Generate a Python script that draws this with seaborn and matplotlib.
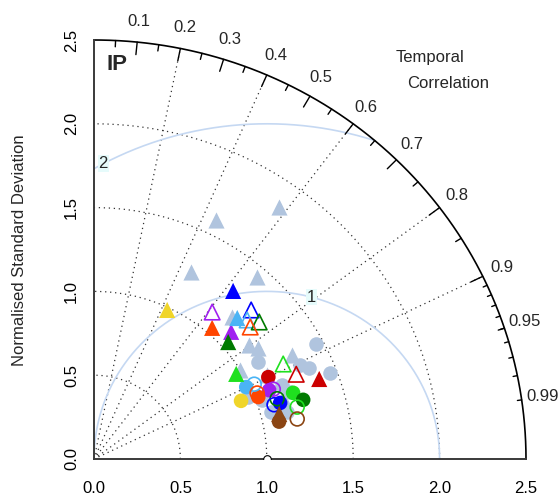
import numpy as np
import pandas as pd
import matplotlib
matplotlib.use("Agg")
import matplotlib.pyplot as plt
import seaborn as sns

sns.set_style("white")
plt.rcParams["font.family"] = ["Liberation Sans", "DejaVu Sans"]

# ---- data: normalised standard deviation and temporal correlation ----
# ensemble members (grey)
ens_tri_sd = [1.590, 1.847, 1.249, 1.439, 1.165, 1.127, 1.158, 1.304, 0.999, 1.120, 1.154]
ens_tri_cor = [0.444, 0.580, 0.450, 0.656, 0.686, 0.797, 0.820, 0.880, 0.847, 0.895, 0.949]
ens_circ_sd = [1.458, 1.113, 1.319, 1.359, 1.460, 1.035, 1.063, 1.153, 1.175, 1.204, 0.966]
ens_circ_cor = [0.882, 0.854, 0.905, 0.917, 0.936, 0.940, 0.965, 0.970, 0.927, 0.943, 0.924]

model_colors = {
    "blue": "#0000FF", "purple": "#A020F0", "skyblue": "#4AB4F5",
    "orangered": "#FF4500", "green": "#1FE01F", "darkgreen": "#007A00",
    "darkred": "#CC0000", "brown": "#8B4513", "yellow": "#F0D52A",
}
ens_color = "#B0C4DE"

tri_fill_model = ["blue", "yellow", "orangered", "purple", "darkgreen", "skyblue", "green", "darkred", "brown"]
tri_fill_sd = [1.286, 0.985, 1.039, 1.098, 1.044, 1.181, 0.967, 1.388, 1.105]
tri_fill_cor = [0.626, 0.430, 0.658, 0.723, 0.744, 0.702, 0.851, 0.939, 0.970]

tri_open_model = ["purple", "blue", "skyblue", "darkgreen", "orangered", "green", "darkred"]
tri_open_sd = [1.112, 1.272, 1.214, 1.258, 1.199, 1.233, 1.275]
tri_open_cor = [0.615, 0.715, 0.730, 0.760, 0.754, 0.888, 0.918]

circ_fill_model = ["darkred", "skyblue", "purple", "orangered", "yellow", "green", "darkgreen", "blue", "brown"]
circ_fill_sd = [1.121, 0.980, 1.094, 1.020, 0.919, 1.218, 1.261, 1.128, 1.094]
circ_fill_cor = [0.900, 0.899, 0.927, 0.932, 0.926, 0.946, 0.960, 0.955, 0.979]

circ_open_model = ["skyblue", "orangered", "purple", "darkgreen", "blue", "green", "brown"]
circ_open_sd = [1.029, 1.023, 1.118, 1.119, 1.091, 1.216, 1.200]
circ_open_cor = [0.901, 0.923, 0.928, 0.947, 0.955, 0.967, 0.980]

sd_ticks = [0.0, 0.5, 1.0, 1.5, 2.0, 2.5]
sd_arcs = [0.5, 1.0, 1.5, 2.0]
cor_labels = [0.1, 0.2, 0.3, 0.4, 0.5, 0.6, 0.7, 0.8, 0.9, 0.95, 0.99]
cor_lines = [0.2, 0.4, 0.6, 0.8, 0.9]
rms_arcs = [1, 2]
rms_label_angle = [1.31, 2.064]
max_sd = 2.5
ref_sd = 1.0


def to_xy(sd, cor, model=None):
    sd = np.asarray(sd, float)
    cor = np.asarray(cor, float)
    df = pd.DataFrame({"x": sd * cor, "y": sd * np.sqrt(1 - cor ** 2)})
    if model is not None:
        df["model"] = model
    return df


fig = plt.figure(figsize=(5.6, 4.99), dpi=100)
ax = fig.add_axes([94 / 560, 40 / 499, 432 / 560, 419 / 499])
ax.set_xlim(0, max_sd)
ax.set_ylim(0, max_sd)

for s in ["top", "right"]:
    ax.spines[s].set_visible(False)
for s in ["left", "bottom"]:
    ax.spines[s].set_color("#3a3a3a")
    ax.spines[s].set_linewidth(1.4)

ax.set_xticks(sd_ticks)
ax.set_xticklabels([f"{v:.1f}" for v in sd_ticks])
ax.set_yticks(sd_ticks)
ax.set_yticklabels([f"{v:.1f}" for v in sd_ticks], rotation=90, va="center")
ax.tick_params(axis="both", direction="out", length=5.8, width=1.2,
               color="#3a3a3a", labelsize=12, labelcolor="black")
ax.tick_params(axis="x", pad=10)
ax.tick_params(axis="y", pad=5)

dot = (0, (1, 3))
# standard deviation arcs
th = np.linspace(0, np.pi / 2, 300)
for r in sd_arcs:
    ax.plot(r * np.cos(th), r * np.sin(th), color="#333333", lw=0.9, ls=dot, zorder=1)
# correlation rays
for c in cor_lines:
    a = np.arccos(c)
    ax.plot([0, max_sd * np.cos(a)], [0, max_sd * np.sin(a)], color="#333333", lw=0.9, ls=dot, zorder=1)

# centred RMS difference arcs
tg = np.linspace(0, np.pi, 600)
for g, la in zip(rms_arcs, rms_label_angle):
    gx = ref_sd + g * np.cos(tg)
    gy = g * np.sin(tg)
    keep = (gx >= 0) & (gx ** 2 + gy ** 2 <= max_sd ** 2)
    ax.plot(gx[keep], gy[keep], color="#C5D8F2", lw=1.2, zorder=1.5)
    ax.text(ref_sd + g * np.cos(la), g * np.sin(la), str(g), fontsize=12, ha="center", va="center",
            zorder=2, bbox=dict(boxstyle="square,pad=0.05", fc="#E6FBFB", ec="none"))

# outer correlation arc with ticks
ax.plot(max_sd * np.cos(th), max_sd * np.sin(th), color="black", lw=1.2, clip_on=False, zorder=2)
big = np.arccos(np.arange(0.1, 0.91, 0.1))
med = np.arccos(np.arange(0.05, 0.96, 0.1))
sml = np.arccos(np.arange(0.91, 0.995, 0.01))
for angles, frac in [(big, 0.97), (med, 0.985), (sml, 0.99)]:
    for a in angles:
        ax.plot([max_sd * np.cos(a), frac * max_sd * np.cos(a)],
                [max_sd * np.sin(a), frac * max_sd * np.sin(a)],
                color="black", lw=1.0, clip_on=False, zorder=2)
for c in cor_labels:
    a = np.arccos(c)
    ax.text(1.05 * max_sd * np.cos(a), 1.05 * max_sd * np.sin(a), f"{c:g}",
            fontsize=12, ha="center", va="center", clip_on=False)

ax.text(1.744, 2.393, "Temporal", fontsize=12, ha="left", va="center", clip_on=False)
ax.text(1.813, 2.243, "Correlation", fontsize=12, ha="left", va="center", clip_on=False)
ax.text(0.075, 2.351, "IP", fontsize=16, fontweight="bold", ha="left", va="center")
fig.text(20 / 560, 1 - 250 / 499, "Normalised Standard Deviation", rotation=90,
         fontsize=12, ha="center", va="center")

# reference point
ax.plot([ref_sd], [0], marker="o", ms=5.5, mfc="white", mec="black", mew=0.8, zorder=3)

# ensemble members
sns.scatterplot(data=to_xy(ens_circ_sd, ens_circ_cor), x="x", y="y", marker="o", s=110,
                color=ens_color, linewidth=0, ax=ax, zorder=3, legend=False)
sns.scatterplot(data=to_xy(ens_tri_sd, ens_tri_cor), x="x", y="y", marker="^", s=135,
                color=ens_color, linewidth=0, ax=ax, zorder=3, legend=False)


def model_points(sd, cor, model, marker, size, hollow, z):
    sns.scatterplot(data=to_xy(sd, cor, model), x="x", y="y", hue="model",
                    palette=model_colors, marker=marker, s=size, linewidth=0,
                    ax=ax, zorder=z, legend=False)
    coll = ax.collections[-1]
    if hollow:
        fc = coll.get_facecolors()
        coll.set_edgecolors(fc)
        coll.set_facecolors("none")
        coll.set_linewidths(1.2)


model_points(circ_fill_sd, circ_fill_cor, circ_fill_model, "o", 110, False, 4)
model_points(circ_open_sd, circ_open_cor, circ_open_model, "o", 100, True, 4.5)
model_points(tri_fill_sd, tri_fill_cor, tri_fill_model, "^", 135, False, 5)
model_points(tri_open_sd, tri_open_cor, tri_open_model, "^", 125, True, 5.5)

ax.set_xlabel("")
ax.set_ylabel("")
fig.savefig("out.png", dpi=100, facecolor="white")
